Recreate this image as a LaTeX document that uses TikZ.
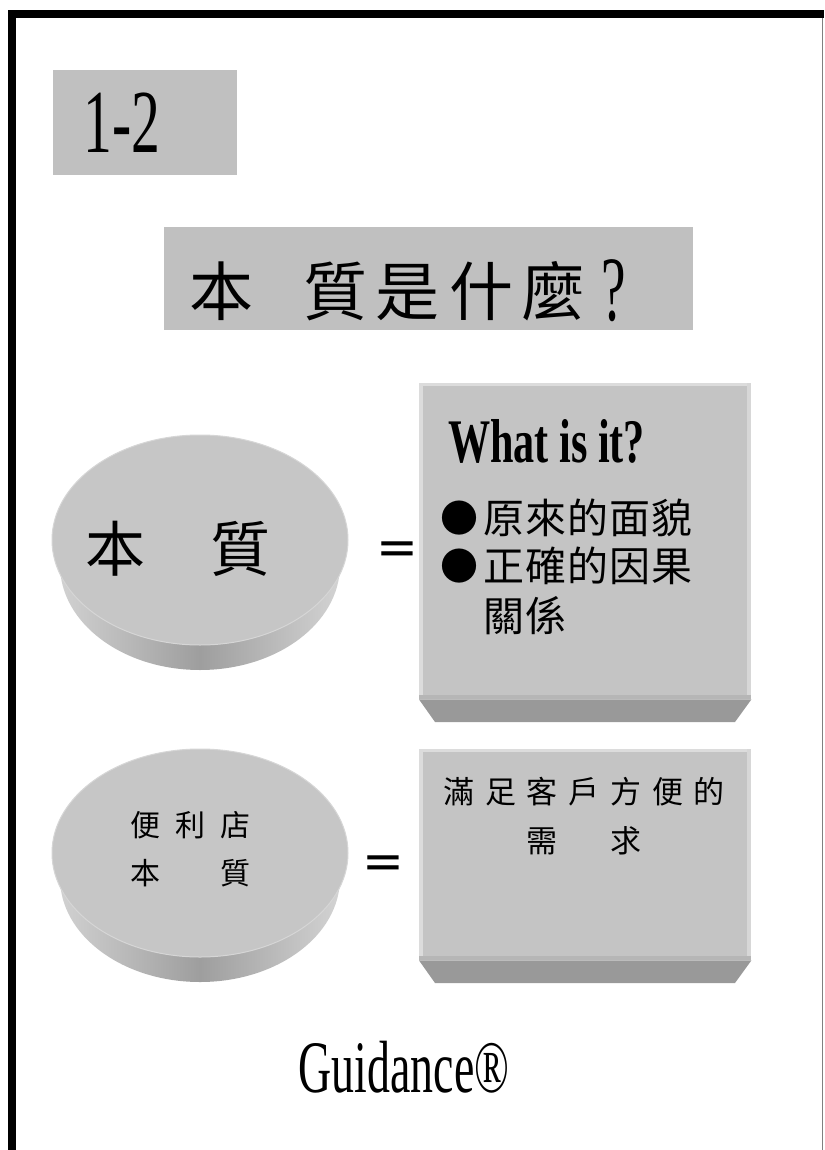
\documentclass[tikz,border=0pt]{standalone}
\usepackage{fontspec}
\setmainfont{Liberation Serif}
\newfontfamily\cjk{Noto Sans CJK TC}
\newfontfamily\symf{DejaVu Sans}
\usetikzlibrary{shapes.geometric}
\definecolor{boxgrey}{HTML}{C0C0C0}
\definecolor{facegrey}{HTML}{C4C4C4}
\definecolor{facehi}{HTML}{DCDCDC}
\definecolor{facelow}{HTML}{B6B6B6}
\definecolor{bevelgrey}{HTML}{999999}
\definecolor{drumtop}{HTML}{C6C6C6}
\definecolor{drumedge}{HTML}{D6D6D6}
\definecolor{drumL}{HTML}{D4D4D4}
\definecolor{drumM}{HTML}{9E9E9E}
\definecolor{drumR}{HTML}{D6D6D6}
\definecolor{framegrey}{HTML}{808080}
\begin{document}
\begin{tikzpicture}[x=1pt,y=-1pt,
  greybox/.style={fill=boxgrey, draw=none, inner sep=0pt, anchor=north west},
  facebox/.style={fill=facegrey, draw=none, inner sep=0pt, anchor=north west, minimum width=332pt},
  disc/.style={ellipse, fill=drumtop, draw=drumedge, line width=1pt, inner sep=0pt, minimum width=296pt, minimum height=210pt},
  drumside/.style={left color=drumL, right color=drumR, middle color=drumM},
  cj/.style={inner sep=0pt, anchor=base},
  lat/.style={inner sep=0pt, anchor=base},
  eqsign/.style={inner sep=0pt, font=\symf\fontsize{50}{50}\selectfont},
  bulletmark/.style={inner sep=0pt, font=\cjk\fontsize{38}{38}\selectfont}]
\fill[white] (0,0) rectangle (824,1150);
\useasboundingbox (0,0) rectangle (824,1150);
% frame
\fill[black] (8,10) rectangle (824,18);
\fill[black] (8,10) rectangle (16,1150);
\draw[framegrey, line width=1.5pt] (822.5,18) -- (822.5,1150);
% number box
\node[greybox, minimum width=184pt, minimum height=105pt] (numbox) at (53,70) {};
\node[lat] (num) at (122,153) {\fontsize{90}{90}\selectfont\scalebox{0.64}[1]{1-2}};
% title
\node[greybox, minimum width=529pt, minimum height=103pt] (titlebox) at (164,227) {};
\foreach \x/\c in {221/本,335/質,407/是,481/什,553/麼}
  \node[cj] (t\x) at (\x,315) {\cjk\fontsize{64}{64}\selectfont \c};
\node[lat] (tq) at (614,320) {\fontsize{92}{92}\selectfont\scalebox{0.6}[1]{?}};
% drum 1
\shade[drumside]
  (200,565) ellipse [x radius=140, y radius=105]
  (52,540) -- (60,565) -- (340,565) -- (348,540) -- cycle;
\node[disc] (disc1) at (200,540) {};
\node[cj] (d1a) at (115.5,571) {\cjk\fontsize{60}{60}\selectfont 本};
\node[cj] (d1b) at (240,571) {\cjk\fontsize{60}{60}\selectfont 質};
\node[eqsign] (eq1) at (397,553) {=};
% box 1
\node[facebox, minimum height=316pt] (box1) at (419,383) {};
\fill[facehi] (419,383) rectangle (423,699);
\fill[facehi] (419,383) rectangle (751,386);
\fill[facehi!80!facegrey] (747,383) rectangle (751,699);
\fill[facelow] (419,695) rectangle (751,699);
\fill[bevelgrey] (box1.south west) -- (box1.south east) -- (735,722) -- (435,722) -- cycle;
\node[lat, anchor=base west] (what) at (448,462) {\fontsize{62}{62}\selectfont\bfseries\scalebox{0.68}[1]{What is it?}};
\node[bulletmark] (bullet1) at (459,518) {●};
\foreach \x/\c in {504/原,546/來,588/的,630/面,672/貌}
  \node[cj] (ba\x) at (\x,533.5) {\cjk\fontsize{41}{41}\selectfont \c};
\node[bulletmark] (bullet2) at (459,566) {●};
\foreach \x/\c in {504/正,546/確,588/的,630/因,672/果}
  \node[cj] (bb\x) at (\x,581.5) {\cjk\fontsize{41}{41}\selectfont \c};
\foreach \x/\c in {504/關,546/係}
  \node[cj] (bc\x) at (\x,631.5) {\cjk\fontsize{41}{41}\selectfont \c};
% drum 2
\shade[drumside]
  (200,878) ellipse [x radius=140, y radius=104]
  (52,853) -- (60,878) -- (340,878) -- (348,853) -- cycle;
\node[disc, minimum height=208pt] (disc2) at (200,853) {};
\foreach \x/\c in {145.5/便,190.5/利,235.5/店}
  \node[cj] (da\x) at (\x,836.5) {\cjk\fontsize{30}{30}\selectfont \c};
\foreach \x/\c in {145.5/本,235.5/質}
  \node[cj] (db\x) at (\x,884.5) {\cjk\fontsize{30}{30}\selectfont \c};
\node[eqsign] (eq2) at (383,867) {=};
% box 2
\node[facebox, minimum height=211pt] (box2) at (419,749) {};
\fill[facehi] (419,749) rectangle (423,960);
\fill[facehi] (419,749) rectangle (751,752);
\fill[facehi!80!facegrey] (747,749) rectangle (751,960);
\fill[facelow] (419,956) rectangle (751,960);
\fill[bevelgrey] (box2.south west) -- (box2.south east) -- (735,983) -- (435,983) -- cycle;
\foreach \x/\c in {459/滿,500.7/足,542.4/客,584/戶,625.8/方,667.5/便,709/的}
  \node[cj] (ea\x) at (\x,803) {\cjk\fontsize{31}{31}\selectfont \c};
\foreach \x/\c in {542.4/需,625.8/求}
  \node[cj] (eb\x) at (\x,852) {\cjk\fontsize{31}{31}\selectfont \c};
% brand
\node[lat] (brand) at (404,1092) {\fontsize{74}{74}\selectfont\scalebox{0.62}[1]{Guidance®}};
\end{tikzpicture}
\end{document}
